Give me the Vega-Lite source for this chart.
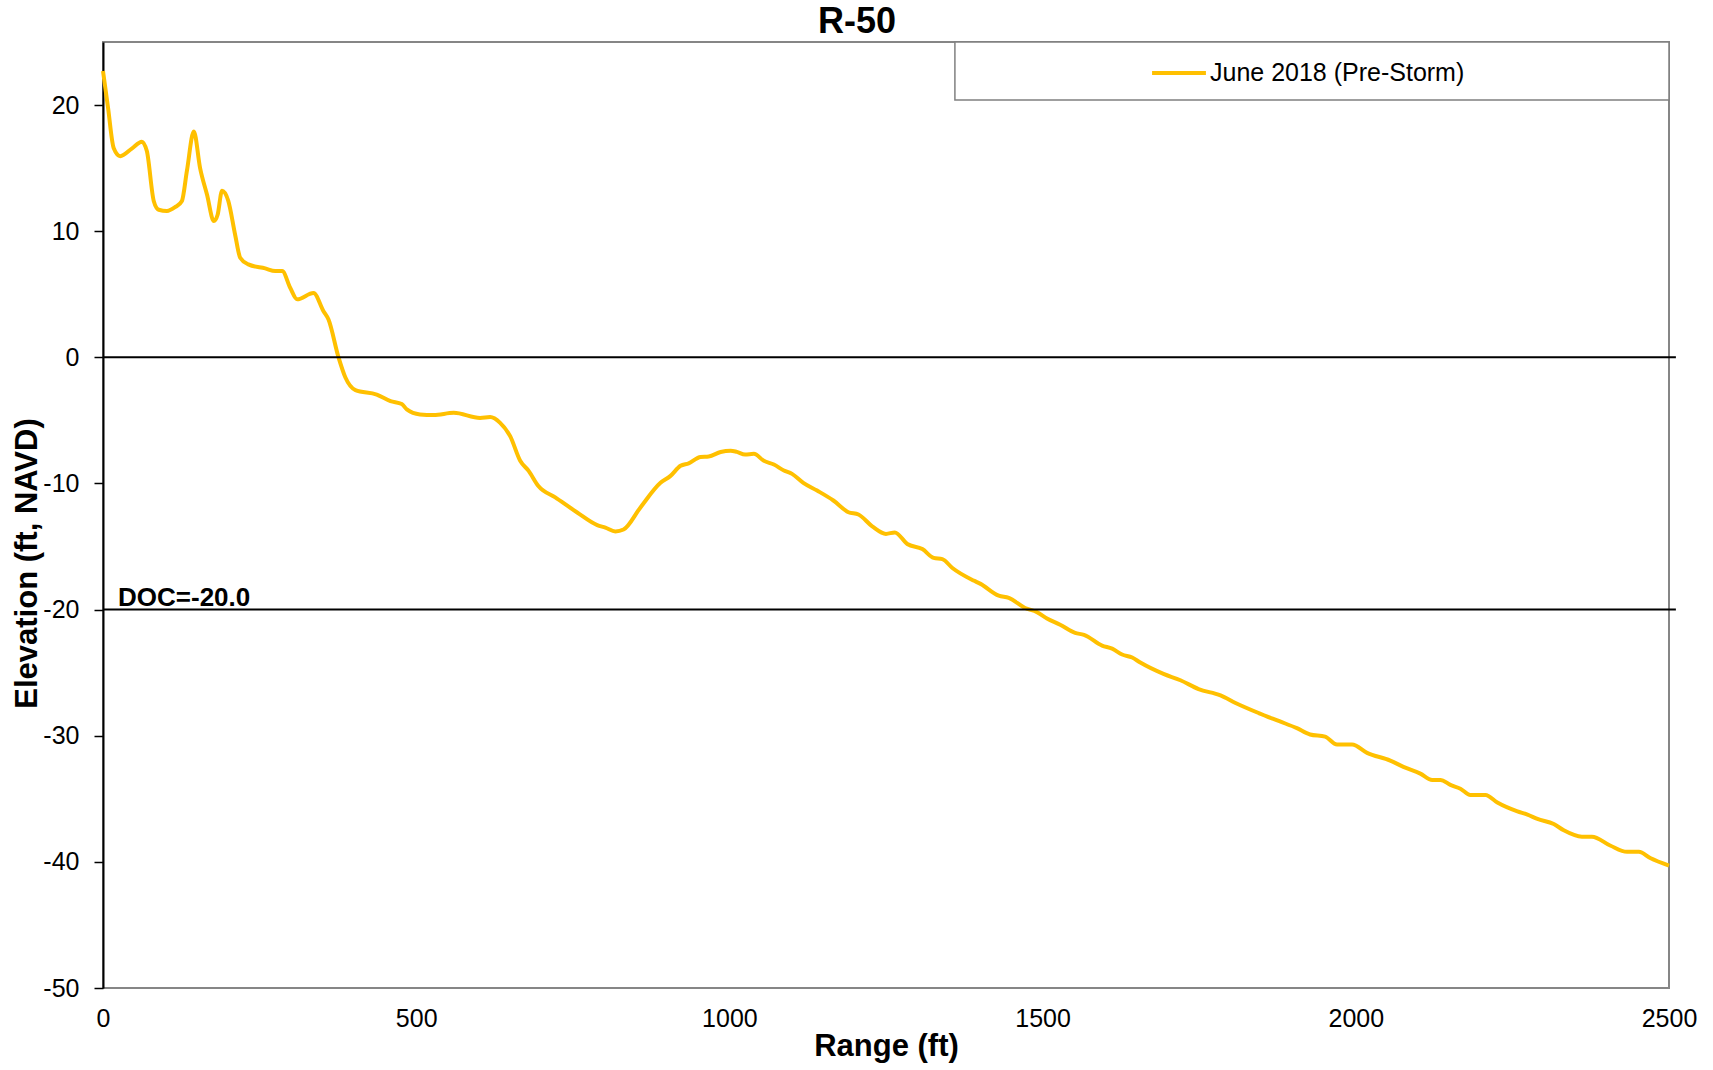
{
  "$schema": "https://vega.github.io/schema/vega-lite/v6.json",
  "width": 1566,
  "height": 946,
  "autosize": "none",
  "padding": {"left": 103, "top": 42, "right": 44, "bottom": 82},
  "background": "white",
  "config": {
    "font": "Liberation Sans",
    "view": {"stroke": "#868686", "strokeWidth": 2},
    "axis": {"gridColor": "#d0d0d0", "gridWidth": 1.2, "labelFont": "Liberation Sans", "titleFont": "Liberation Sans", "labelColor": "#000", "titleColor": "#000"}
  },
  "title": {"text": "R-50", "fontSize": 36, "fontWeight": "bold", "font": "Liberation Sans", "color": "#000", "anchor": "middle", "dx": -29, "offset": 0},
  "data": {"values": [
    {"range": 0, "elev": 22.7}, {"range": 8, "elev": 19.8}, {"range": 17, "elev": 16.6}, {"range": 27.6, "elev": 15.95},
    {"range": 46, "elev": 16.55}, {"range": 62, "elev": 17.1}, {"range": 70, "elev": 16.35}, {"range": 81, "elev": 12.4},
    {"range": 89, "elev": 11.7}, {"range": 102, "elev": 11.6}, {"range": 115, "elev": 11.9}, {"range": 126, "elev": 12.4},
    {"range": 134, "elev": 14.8}, {"range": 145, "elev": 17.9}, {"range": 155, "elev": 15.0}, {"range": 166, "elev": 12.9},
    {"range": 177, "elev": 10.8}, {"range": 183, "elev": 11.3}, {"range": 190, "elev": 13.2}, {"range": 200, "elev": 12.4},
    {"range": 211, "elev": 9.7}, {"range": 219, "elev": 7.9}, {"range": 232, "elev": 7.37}, {"range": 259, "elev": 7.05},
    {"range": 275, "elev": 6.84}, {"range": 286, "elev": 6.84}, {"range": 299, "elev": 5.5}, {"range": 310, "elev": 4.6},
    {"range": 336, "elev": 5.1}, {"range": 352, "elev": 3.66}, {"range": 360, "elev": 3.0}, {"range": 376, "elev": 0},
    {"range": 387, "elev": -1.6}, {"range": 403, "elev": -2.6}, {"range": 437, "elev": -2.95}, {"range": 459, "elev": -3.47},
    {"range": 477, "elev": -3.7}, {"range": 485, "elev": -4.13}, {"range": 506, "elev": -4.53}, {"range": 528, "elev": -4.58},
    {"range": 560, "elev": -4.4}, {"range": 602, "elev": -4.8}, {"range": 618, "elev": -4.74}, {"range": 634, "elev": -5.2},
    {"range": 650, "elev": -6.25}, {"range": 666, "elev": -8.2}, {"range": 679.5, "elev": -9.0}, {"range": 695, "elev": -10.2},
    {"range": 722, "elev": -11.1}, {"range": 757, "elev": -12.3}, {"range": 789, "elev": -13.3}, {"range": 802, "elev": -13.5},
    {"range": 818, "elev": -13.8}, {"range": 831, "elev": -13.65}, {"range": 858, "elev": -11.9}, {"range": 890, "elev": -9.95},
    {"range": 906, "elev": -9.4}, {"range": 922, "elev": -8.6}, {"range": 935, "elev": -8.4}, {"range": 954, "elev": -7.9},
    {"range": 967, "elev": -7.86}, {"range": 986, "elev": -7.5}, {"range": 1002, "elev": -7.4}, {"range": 1012, "elev": -7.5},
    {"range": 1025, "elev": -7.7}, {"range": 1039, "elev": -7.65}, {"range": 1055, "elev": -8.2}, {"range": 1071, "elev": -8.5},
    {"range": 1087, "elev": -8.97}, {"range": 1100, "elev": -9.24}, {"range": 1118, "elev": -9.95}, {"range": 1140, "elev": -10.56},
    {"range": 1166, "elev": -11.35}, {"range": 1190, "elev": -12.28}, {"range": 1206, "elev": -12.46}, {"range": 1228, "elev": -13.4},
    {"range": 1250, "elev": -14.0}, {"range": 1264, "elev": -13.88}, {"range": 1284, "elev": -14.8}, {"range": 1308, "elev": -15.2},
    {"range": 1326, "elev": -15.9}, {"range": 1340, "elev": -16.0}, {"range": 1356, "elev": -16.7}, {"range": 1390, "elev": -17.7},
    {"range": 1401, "elev": -17.96}, {"range": 1430, "elev": -18.9}, {"range": 1446, "elev": -19.07}, {"range": 1472, "elev": -19.87},
    {"range": 1491, "elev": -20.2}, {"range": 1507, "elev": -20.7}, {"range": 1528, "elev": -21.2}, {"range": 1552, "elev": -21.85},
    {"range": 1566, "elev": -22.0}, {"range": 1595, "elev": -22.85}, {"range": 1611, "elev": -23.1}, {"range": 1627, "elev": -23.56},
    {"range": 1643, "elev": -23.8}, {"range": 1656, "elev": -24.2}, {"range": 1693, "elev": -25.1}, {"range": 1720, "elev": -25.6},
    {"range": 1749, "elev": -26.3}, {"range": 1784, "elev": -26.8}, {"range": 1808, "elev": -27.4}, {"range": 1845, "elev": -28.2},
    {"range": 1878, "elev": -28.85}, {"range": 1906, "elev": -29.4}, {"range": 1927, "elev": -29.9}, {"range": 1951, "elev": -30.07},
    {"range": 1970, "elev": -30.7}, {"range": 1994, "elev": -30.7}, {"range": 2018, "elev": -31.36}, {"range": 2055, "elev": -31.97},
    {"range": 2076, "elev": -32.47}, {"range": 2103, "elev": -33.0}, {"range": 2122, "elev": -33.5}, {"range": 2135, "elev": -33.5},
    {"range": 2151, "elev": -33.9}, {"range": 2167, "elev": -34.2}, {"range": 2183, "elev": -34.7}, {"range": 2207, "elev": -34.7},
    {"range": 2226, "elev": -35.3}, {"range": 2258, "elev": -36.0}, {"range": 2274, "elev": -36.25}, {"range": 2290, "elev": -36.6},
    {"range": 2316, "elev": -37.0}, {"range": 2332, "elev": -37.5}, {"range": 2361, "elev": -38.0}, {"range": 2377, "elev": -38.0},
    {"range": 2406, "elev": -38.7}, {"range": 2433, "elev": -39.2}, {"range": 2452, "elev": -39.2}, {"range": 2470, "elev": -39.7},
    {"range": 2500, "elev": -40.3}
  ]},
  "layer": [
    {
      "data": {"values": [{}]},
      "mark": {"type": "rect", "fill": "white", "stroke": "#808080", "strokeWidth": 1.5},
      "encoding": {
        "x": {"datum": 1360, "type": "quantitative", "scale": {"domain": [0, 2500]}},
        "x2": {"datum": 2500},
        "y": {"datum": 25, "type": "quantitative", "scale": {"domain": [-50, 25]}},
        "y2": {"datum": 20.4}
      }
    },
    {
      "mark": {"type": "line", "strokeWidth": 4, "interpolate": "monotone"},
      "encoding": {
        "x": {"field": "range", "type": "quantitative", "scale": {"domain": [0, 2500], "nice": false, "zero": false},
          "axis": {"title": "Range (ft)", "values": [0, 500, 1000, 1500, 2000, 2500], "format": "d", "ticks": false, "domain": false,
            "labelFontSize": 25, "labelPadding": 18, "titleFontSize": 31, "titleFontWeight": "bold", "titlePadding": 0, "labelFlush": false}},
        "y": {"field": "elev", "type": "quantitative", "scale": {"domain": [-50, 25], "nice": false, "zero": false},
          "axis": {"title": "Elevation (ft, NAVD)", "values": [-50, -40, -30, -20, -10, 0, 10, 20],
            "labelExpr": "datum.value < 0 ? '-' + abs(datum.value) : '' + datum.value",
            "tickSize": 9, "tickColor": "#000", "tickWidth": 1.5, "domainColor": "#000", "domainWidth": 2,
            "labelFontSize": 25, "labelPadding": 15, "labelFlush": false,
            "titleFontSize": 31, "titleFontWeight": "bold", "titleX": -76, "titleY": 521, "titleAlign": "center", "titleBaseline": "middle"}},
        "color": {"datum": "June 2018 (Pre-Storm)", "type": "nominal",
          "scale": {"range": ["#FFC000"]},
          "legend": {"title": null, "orient": "none", "legendX": 1047, "legendY": 2, "padding": 0,
            "labelFontSize": 25, "labelFont": "Liberation Sans", "labelColor": "#000", "labelOffset": 2, "labelLimit": 400,
            "symbolType": "stroke", "symbolSize": 2900, "symbolStrokeWidth": 4}}
      }
    },
    {
      "data": {"values": [{}]},
      "mark": {"type": "rule", "color": "#000", "strokeWidth": 2},
      "encoding": {"x": {"datum": 0}, "x2": {"datum": 2511}, "y": {"datum": 0}}
    },
    {
      "data": {"values": [{}]},
      "mark": {"type": "rule", "color": "#000", "strokeWidth": 2},
      "encoding": {"x": {"datum": 0}, "x2": {"datum": 2511}, "y": {"datum": -20}}
    },
    {
      "data": {"values": [{}]},
      "mark": {"type": "text", "text": "DOC=-20.0", "font": "Liberation Sans", "fontSize": 26, "fontWeight": "bold", "align": "left", "baseline": "alphabetic", "dy": -4, "fill": "#000"},
      "encoding": {"x": {"datum": 24}, "y": {"datum": -20}}
    }
  ]
}
